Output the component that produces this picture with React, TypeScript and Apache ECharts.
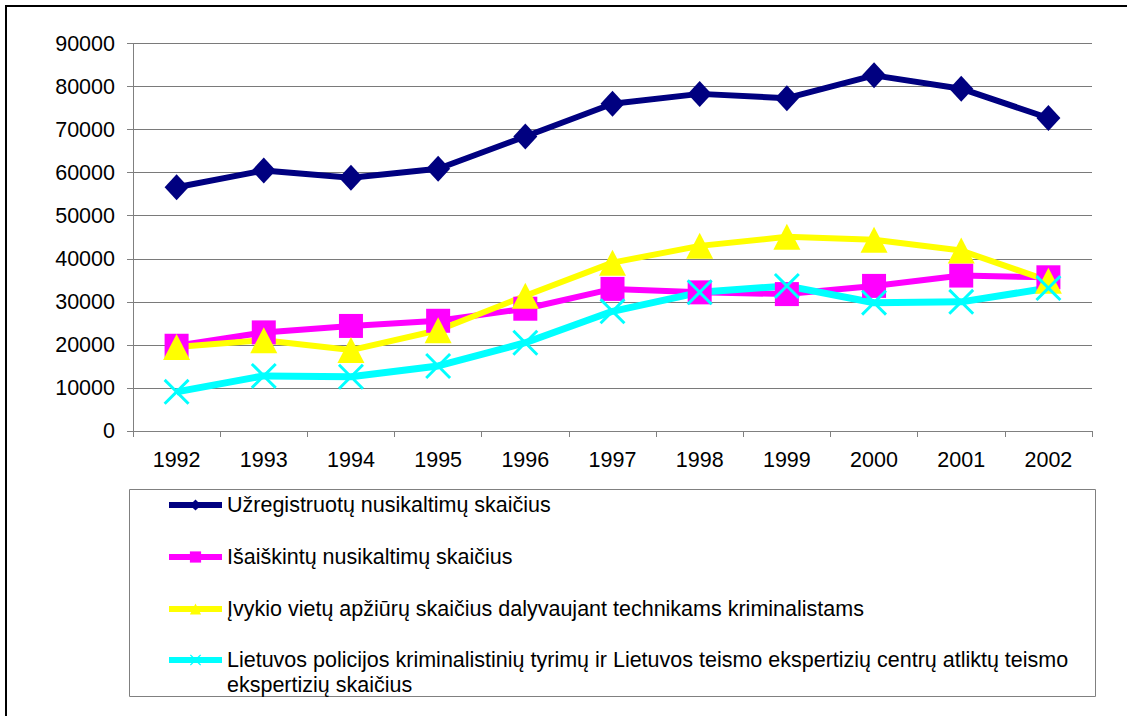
import React, { useEffect, useRef } from "react";
import * as echarts from "echarts";

const years = ["1992", "1993", "1994", "1995", "1996", "1997", "1998", "1999", "2000", "2001", "2002"];
const registered = [56600, 60500, 58800, 60900, 68400, 76000, 78300, 77300, 82600, 79500, 72700];
const solved = [19800, 22900, 24400, 25600, 28400, 33000, 32200, 31800, 33700, 36100, 35700];
const inspections = [19500, 21100, 18800, 23400, 31400, 39100, 43000, 45100, 44400, 41900, 34900];
const expertises = [9100, 12800, 12600, 15100, 20500, 27800, 32200, 33700, 29800, 30000, 33200];

const yMin = 0;
const yMax = 90000;
const yStep = 10000;

const names = [
  "Užregistruotų nusikaltimų skaičius",
  "Išaiškintų nusikaltimų skaičius",
  "Įvykio vietų apžiūrų skaičius dalyvaujant technikams kriminalistams",
  "Lietuvos policijos kriminalistinių tyrimų ir Lietuvos teismo ekspertizių centrų atliktų teismo ekspertizių skaičius",
];

const FONT = "'Liberation Sans', Arial, sans-serif";
const FS = 21.5;
const X_PATH =
  "path://M0,8 L8,0 L50,42 L92,0 L100,8 L58,50 L100,92 L92,100 L50,58 L8,100 L0,92 L42,50 Z";

export default function App() {
  const ref = useRef<HTMLDivElement>(null);

  useEffect(() => {
    if (!ref.current) return;
    const chart = echarts.init(ref.current, null, { renderer: "svg" });
    const lineSeries = (
      name: string,
      data: number[],
      color: string,
      symbol: string,
      size: number[] | number,
      width: number
    ) => ({
      name,
      type: "line",
      data,
      symbol,
      symbolSize: size,
      showAllSymbol: true,
      lineStyle: { color, width },
      itemStyle: { color, borderWidth: 0 },
      emphasis: { disabled: true },
      z: 3,
    });

    chart.setOption({
      animation: false,
      textStyle: { fontFamily: FONT },
      grid: { left: 133, right: 35, top: 43.5, bottom: 285, containLabel: false },
      xAxis: {
        type: "category",
        data: years,
        boundaryGap: true,
        axisLine: { lineStyle: { color: "#808080", width: 1 } },
        axisTick: { show: true, length: 6, alignWithLabel: false, lineStyle: { color: "#808080" } },
        axisLabel: { color: "#000", fontSize: FS, margin: 18, fontFamily: FONT },
        splitLine: { show: false },
      },
      yAxis: {
        type: "value",
        min: yMin,
        max: yMax,
        interval: yStep,
        axisLine: { show: true, lineStyle: { color: "#808080", width: 1 } },
        axisTick: { show: true, length: 6, inside: false, lineStyle: { color: "#808080" } },
        axisLabel: {
          color: "#000",
          fontSize: FS,
          margin: 18,
          fontFamily: FONT,
          formatter: (v: number) => String(v),
        },
        splitLine: { show: true, lineStyle: { color: "#7a7a7a", width: 1 } },
      },
      legend: [
        {
          data: names.slice(0, 3),
          orient: "vertical",
          left: 166,
          top: 492.5,
          padding: 0,
          itemGap: 27,
          itemWidth: 53,
          itemHeight: 14,
          selectedMode: false,
          lineStyle: { width: 6 },
          textStyle: { fontSize: FS, lineHeight: 25, color: "#000", fontFamily: FONT },
        },
        {
          data: [names[3]],
          orient: "vertical",
          left: 166,
          top: 622.5,
          padding: 0,
          itemWidth: 53,
          itemHeight: 14,
          selectedMode: false,
          lineStyle: { width: 6 },
          formatter: (n: string) =>
            "\n" + n.replace(/ ekspertizių skaičius$/, "\nekspertizių skaičius"),
          textStyle: { fontSize: FS, lineHeight: 25, color: "#000", fontFamily: FONT },
        },
      ],
      graphic: [
        {
          type: "rect",
          silent: true,
          shape: { x: 6, y: 6, width: 1300, height: 900 },
          style: { fill: "none", stroke: "#000", lineWidth: 2 },
          z: -1,
        },
        {
          type: "rect",
          silent: true,
          shape: { x: 129.5, y: 489.5, width: 966, height: 207 },
          style: { fill: "none", stroke: "#808080", lineWidth: 1 },
          z: -1,
        },
      ],
      series: [
        lineSeries(names[0], registered, "#000080", "diamond", [24, 26], 6),
        lineSeries(names[1], solved, "#ff00ff", "rect", [24, 24], 6),
        lineSeries(names[2], inspections, "#ffff00", "triangle", [27, 26], 6),
        lineSeries(names[3], expertises, "#00ffff", X_PATH, [26, 26], 7),
      ],
    });
    return () => chart.dispose();
  }, []);

  return (
    <div
      ref={ref}
      style={{ position: "fixed", left: 0, top: 0, width: 1127, height: 716, background: "#fff" }}
    />
  );
}
